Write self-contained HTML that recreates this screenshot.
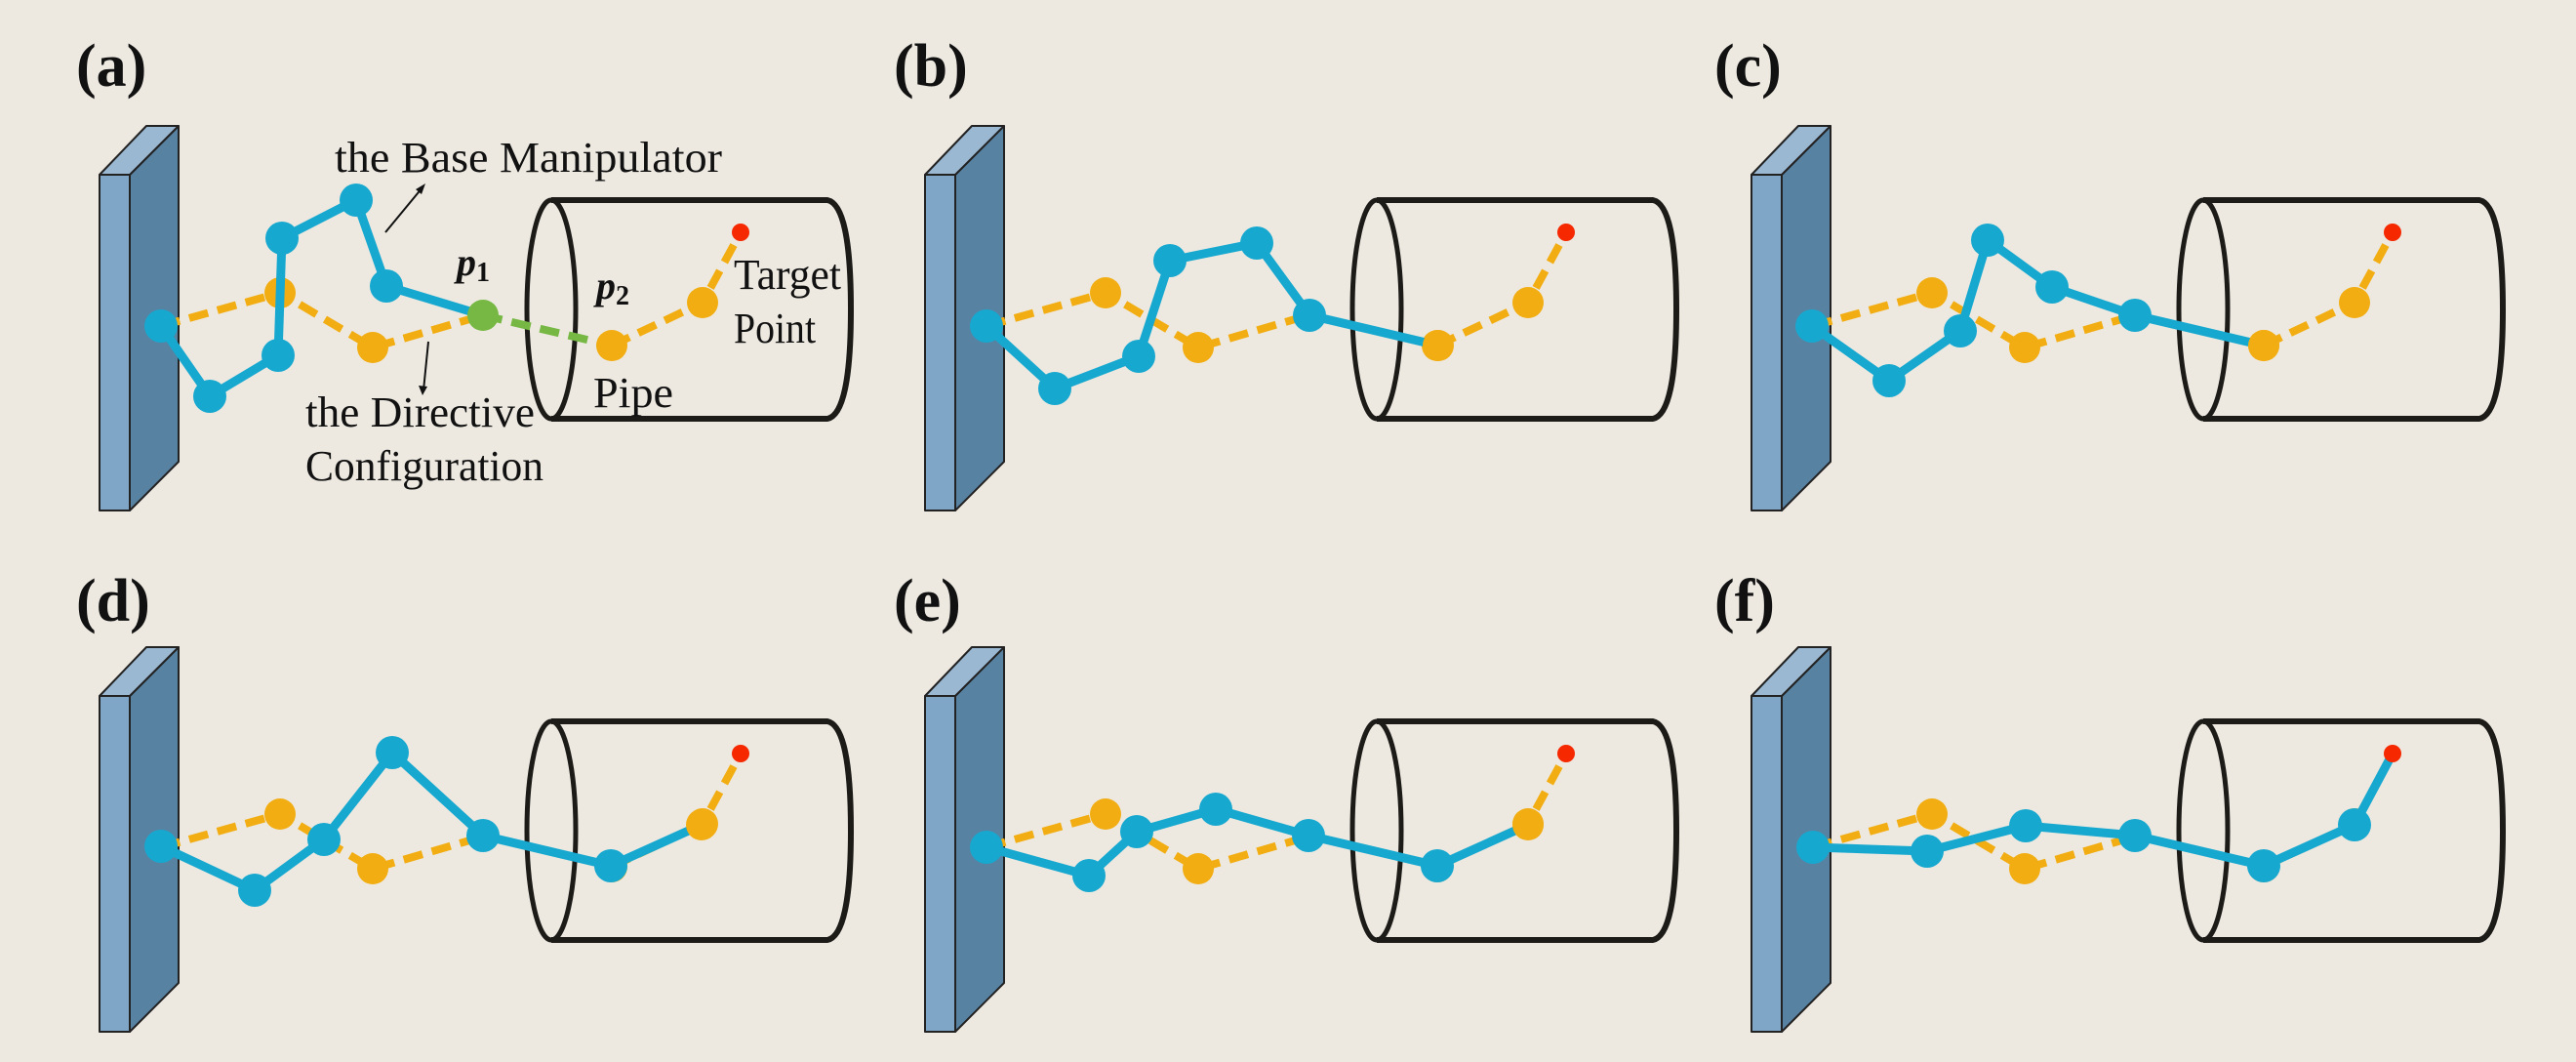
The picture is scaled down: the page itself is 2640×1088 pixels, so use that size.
<!DOCTYPE html>
<html><head><meta charset="utf-8"><style>
html,body{margin:0;padding:0;background:#ede9e1;}
svg{display:block;}
text{font-family:"Liberation Serif",serif;fill:#111;}
</style></head><body>
<svg id="fig" width="2640" height="1088" viewBox="0 0 2640 1088" xmlns="http://www.w3.org/2000/svg">
<rect width="2640" height="1088" fill="#ede9e1"/>
</svg>
<script>
// panel offsets
const panelIds = ['a','b','c','d','e','f'];
const panelDX = [0, 846, 1693, 0, 846, 1693];
const panelDY = [0, 0, 0, 534, 534, 534];
const labelX = [78, 916, 1757, 78, 916, 1757];
const labelY = [88, 88, 88, 636, 636, 636];
// directive configuration (orange) joints, shared
const directiveX = [165, 287, 382, 495, 627, 720];
const directiveY = [334, 300, 356, 323, 354, 310];
const targetPt = [759, 238];
// base manipulator (blue) joints per panel
const blueX = [
  [165, 215, 285, 289, 365, 396, 495],
  [165, 235, 321, 353, 442, 496, 628],
  [164, 243, 316, 344, 410, 495, 627],
  [165, 261, 332, 402, 495, 626, 719],
  [165, 270, 319, 400, 495, 627, 720],
  [165, 282, 383, 495, 627, 720, 759]
];
const blueY = [
  [334, 406, 364, 244, 205, 293, 323],
  [334, 398, 365, 267, 249, 323, 354],
  [334, 390, 339, 246, 294, 323, 354],
  [333, 378, 326, 237, 322, 353, 311],
  [334, 363, 318, 295, 322, 353, 311],
  [334, 338, 312, 322, 353, 311, 238]
];

const NS = 'http://www.w3.org/2000/svg';
const svg = document.getElementById('fig');
function mk(tag, attrs, parent) {
  const e = document.createElementNS(NS, tag);
  for (const k in attrs) e.setAttribute(k, attrs[k]);
  (parent || svg).appendChild(e);
  return e;
}
const BLUE = '#17a8d0', ORANGE = '#f2ad12', GREEN = '#76b843', RED = '#f52800';

panelIds.forEach((id, p) => {
  const g = mk('g', {transform: `translate(${panelDX[p]},${panelDY[p]})`});
  
  
  // label
  const lb = mk('text', {x: labelX[p] - panelDX[p], y: labelY[p] - panelDY[p], 'font-size': 62, 'font-weight': 'bold'}, g);
  lb.textContent = '(' + id + ')';
  
  
  // wall
  const wall = mk('g', {stroke: '#222', 'stroke-width': 2, 'stroke-linejoin': 'round'}, g);
  
  
  mk('polygon', {points: '133,179 183,129 183,473 133,523', fill: '#5882a2'}, wall);
  mk('polygon', {points: '102,179 150,129 183,129 133,179', fill: '#9ab8d2'}, wall);
  mk('rect', {x: 102, y: 179, width: 31, height: 344, fill: '#7fa6c6'}, wall);
  // pipe
  const pipe = mk('g', {fill: 'none', stroke: '#1c1b18', 'stroke-width': 6, 'stroke-linejoin': 'round'}, g);
  
  
  mk('path', {d: 'M565,205 L848,205 Q872,210 872,317 Q872,424 848,429 L565,429'}, pipe);
  mk('ellipse', {cx: 565, cy: 317, rx: 25, ry: 112, 'stroke-width': 5}, pipe);

  const bx = blueX[p], by = blueY[p];
  const dx = directiveX, dy = directiveY;
  // directive configuration dashed
  const dash = mk('g', {fill: 'none', 'stroke-width': 8, 'stroke-dasharray': '20 10'}, g);
  
  
  let pts = '';
  for (let i = 0; i < 4; i++) pts += dx[i] + ',' + dy[i] + ' ';
  mk('polyline', {points: pts, stroke: ORANGE}, dash);
  if (p === 0) {
    mk('line', {x1: dx[3], y1: dy[3], x2: dx[4], y2: dy[4], stroke: GREEN}, dash);
  }
  mk('polyline', {points: `${dx[4]},${dy[4]} ${dx[5]},${dy[5]} ${targetPt[0]},${targetPt[1]}`, stroke: ORANGE}, dash);
  // orange dots
  for (let i = 1; i < dx.length; i++) {
    if (i === 3) continue;
    const c = mk('circle', {cx: dx[i], cy: dy[i], r: 16, fill: ORANGE}, g);
    
    
  }
  // blue manipulator
  let bp = '';
  for (let i = 0; i < bx.length; i++) bp += bx[i] + ',' + by[i] + ' ';
  const bl = mk('polyline', {points: bp.trim(), fill: 'none', stroke: BLUE, 'stroke-width': 9, 'stroke-linejoin': 'round'}, g);
  
  
  for (let i = 0; i < 6; i++) {
    const c = mk('circle', {cx: bx[i], cy: by[i], r: 17, fill: BLUE}, g);
    
    
  }
  if (p >= 1 && p <= 4) {
    const c = mk('circle', {cx: bx[6], cy: by[6], r: 16, fill: ORANGE}, g);
    
    
  }
  if (p === 0) {
    const c = mk('circle', {cx: bx[6], cy: by[6], r: 16, fill: GREEN}, g);
    
    
  }
  // target
  const t = mk('circle', {cx: targetPt[0], cy: targetPt[1], r: 9, fill: RED}, g);
  
  

  if (p === 0) {
    const ann = mk('g', {}, g);
    
    
    const texts = [
      ['the Base Manipulator', 343, 176, 397, 'label-base-manipulator'],
      ['the Directive', 313, 437, 235, 'label-directive'],
      ['Configuration', 313, 492, 244, 'label-configuration'],
      ['Pipe', 608, 417, 82, 'label-pipe'],
      ['Target', 752, 296, 110, 'label-target'],
      ['Point', 752, 351, 84, 'label-point']
    ];
    texts.forEach(tt => {
      const e = mk('text', {x: tt[1], y: tt[2], 'font-size': 44, textLength: tt[3], lengthAdjust: 'spacingAndGlyphs'}, ann);
      e.textContent = tt[0];
      
      
    });
    const p1 = mk('text', {x: 468, y: 282, 'font-size': 40, 'font-weight': 'bold', 'font-style': 'italic'}, ann);
    p1.innerHTML = 'p<tspan font-size="28" font-style="normal" dy="6">1</tspan>';
    
    
    const p2 = mk('text', {x: 611, y: 306, 'font-size': 40, 'font-weight': 'bold', 'font-style': 'italic'}, ann);
    p2.innerHTML = 'p<tspan font-size="28" font-style="normal" dy="6">2</tspan>';
    
    
    const a1 = mk('line', {x1: 395, y1: 238, x2: 433, y2: 192, stroke: '#111', 'stroke-width': 2}, ann);
    
    
    mk('polygon', {points: '436,188 426,194 432,199', fill: '#111'}, ann);
    const a2 = mk('line', {x1: 439, y1: 350, x2: 434, y2: 400, stroke: '#111', 'stroke-width': 2}, ann);
    
    
    mk('polygon', {points: '433,405 429,395 438,396', fill: '#111'}, ann);
  }
});
</script>
</body></html>
